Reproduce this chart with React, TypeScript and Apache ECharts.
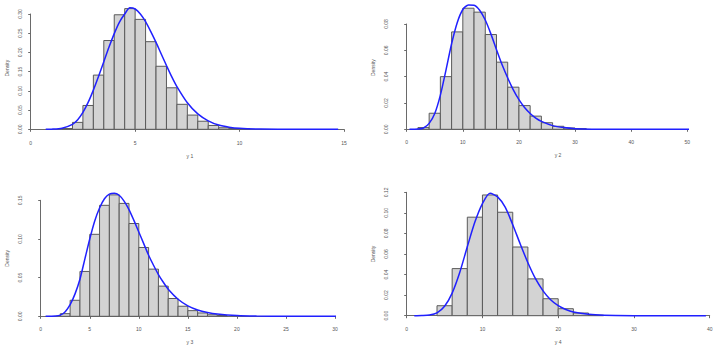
import React, { useEffect, useRef } from "react";
import * as echarts from "echarts";

// ---- Panel 1 (y 1) ----
const breaks1 = [1.5, 2, 2.5, 3, 3.5, 4, 4.5, 5, 5.5, 6, 6.5, 7, 7.5, 8, 8.5, 9, 9.5, 10, 10.5];
const dens1 = [0.002, 0.018, 0.062, 0.141, 0.231, 0.298, 0.314, 0.286, 0.228, 0.164, 0.108, 0.065, 0.037, 0.021, 0.010, 0.004, 0.002, 0.001];
const curveX1 = [0.72, 1, 1.5, 2, 2.25, 2.5, 2.75, 3, 3.25, 3.5, 3.75, 4, 4.25, 4.5, 4.75, 5, 5.25, 5.5, 5.75, 6, 6.25, 6.5, 6.75, 7, 7.5, 8, 8.5, 9, 9.5, 10, 11, 12, 13, 14.72];
const curveY1 = [0, 0.0003, 0.003, 0.013, 0.025, 0.044, 0.07, 0.102, 0.138, 0.176, 0.214, 0.249, 0.279, 0.3, 0.316, 0.313, 0.3, 0.28, 0.254, 0.226, 0.196, 0.166, 0.137, 0.111, 0.069, 0.04, 0.022, 0.011, 0.0055, 0.0026, 0.0005, 0.0001, 0, 0];
const xTicks1 = { min: 0, max: 15, interval: 5 };
const yTicks1 = { min: 0, max: 0.3, interval: 0.05 };

// ---- Panel 2 (y 2) ----
const breaks2 = [2, 4, 6, 8, 10, 12, 14, 16, 18, 20, 22, 24, 26, 28, 30, 32];
const dens2 = [0.0013, 0.0122, 0.040, 0.074, 0.092, 0.089, 0.072, 0.051, 0.032, 0.018, 0.010, 0.005, 0.0023, 0.001, 0.0005];
const curveX2 = [0.5, 2, 3, 4, 5, 6, 7, 8, 9, 10, 11, 12, 13, 14, 15, 16, 17, 18, 19, 20, 21, 22, 23, 24, 26, 28, 30, 33, 38, 45, 53.5];
const curveY2 = [0, 0.0002, 0.001, 0.0045, 0.012, 0.026, 0.045, 0.065, 0.081, 0.091, 0.0945, 0.0943, 0.0905, 0.083, 0.0725, 0.0605, 0.049, 0.039, 0.03, 0.0225, 0.0165, 0.012, 0.0085, 0.006, 0.0028, 0.0013, 0.0005, 0.0001, 0, 0, 0];
const xTicks2 = { min: 0, max: 50, interval: 10 };
const yTicks2 = { min: 0, max: 0.08, interval: 0.02 };

// ---- Panel 3 (y 3) ----
const breaks3 = [2, 3, 4, 5, 6, 7, 8, 9, 10, 11, 12, 13, 14, 15, 16, 17, 18, 19];
const dens3 = [0.0034, 0.0207, 0.058, 0.106, 0.1435, 0.157, 0.146, 0.120, 0.089, 0.061, 0.039, 0.023, 0.013, 0.0073, 0.0043, 0.002, 0.001];
const curveX3 = [0.5, 1.5, 2, 2.5, 3, 3.5, 4, 4.5, 5, 5.5, 6, 6.5, 7, 7.5, 8, 8.5, 9, 9.5, 10, 10.5, 11, 11.5, 12, 12.5, 13, 14, 15, 16, 17, 18, 20, 22, 25, 31];
const curveY3 = [0, 0.0003, 0.0015, 0.006, 0.015, 0.029, 0.048, 0.074, 0.1, 0.123, 0.14, 0.152, 0.158, 0.159, 0.1565, 0.149, 0.138, 0.124, 0.109, 0.094, 0.079, 0.066, 0.054, 0.044, 0.035, 0.022, 0.0135, 0.0082, 0.005, 0.003, 0.001, 0.0003, 0, 0];
const xTicks3 = { min: 0, max: 30, interval: 5 };
const yTicks3 = { min: 0, max: 0.15, interval: 0.05 };

// ---- Panel 4 (y 4) ----
const breaks4 = [4, 6, 8, 10, 12, 14, 16, 18, 20, 22, 24, 26];
const dens4 = [0.0097, 0.0458, 0.0958, 0.1174, 0.1006, 0.0668, 0.0358, 0.0165, 0.0068, 0.0026, 0.0005];
const curveX4 = [1, 2, 3, 4, 5, 6, 7, 8, 9, 10, 11, 12, 13, 14, 15, 16, 17, 18, 19, 20, 21, 22, 24, 26, 30, 35, 39.5];
const curveY4 = [0, 0.0002, 0.0007, 0.0028, 0.0092, 0.022, 0.042, 0.067, 0.091, 0.109, 0.119, 0.1155, 0.1055, 0.0885, 0.0695, 0.0515, 0.036, 0.0242, 0.0155, 0.0097, 0.006, 0.0036, 0.0013, 0.0004, 0.00005, 0, 0];
const xTicks4 = { min: 0, max: 40, interval: 10 };
const yTicks4 = { min: 0, max: 0.12, interval: 0.02 };

const xNames = ["y 1", "y 2", "y 3", "y 4"];
const yName = "Density";

const FONT = "Liberation Sans, Arial, Helvetica, sans-serif";
const TEXT = "#555555";
const LINE = "#6a6a6a";

export default function App() {
  const ref = useRef<HTMLDivElement>(null);
  useEffect(() => {
    if (!ref.current) return;
    const chart = echarts.init(ref.current, undefined, { renderer: "svg" });

    const panels = [
      { breaks: breaks1, dens: dens1, cx: curveX1, cy: curveY1, xt: xTicks1, yt: yTicks1,
        grid: { left: 30.7, top: 14, width: 313.3, height: 115.3 }, yOff: 2.4, xOff: 5.2, xPad: 5, yPad: 7 },
      { breaks: breaks2, dens: dens2, cx: curveX2, cy: curveY2, xt: xTicks2, yt: yTicks2,
        grid: { left: 406.7, top: 24, width: 280.6, height: 105.3 }, yOff: 12.7, xOff: 5, xPad: 22, yPad: 18 },
      { breaks: breaks3, dens: dens3, cx: curveX3, cy: curveY3, xt: xTicks3, yt: yTicks3,
        grid: { left: 40.7, top: 200.3, width: 294.3, height: 116 }, yOff: 12.7, xOff: 5, xPad: 4, yPad: 0 },
      { breaks: breaks4, dens: dens4, cx: curveX4, cy: curveY4, xt: xTicks4, yt: yTicks4,
        grid: { left: 406.7, top: 192.3, width: 303, height: 123.4 }, yOff: 12.7, xOff: 4.8, xPad: 0, yPad: 0 },
    ];

    const grids: any[] = [];
    const xAxes: any[] = [];
    const yAxes: any[] = [];
    const series: any[] = [];

    panels.forEach((p, i) => {
      grids.push({ ...p.grid, containLabel: false, outerBoundsMode: "none" });
      xAxes.push({
        type: "value", gridIndex: i, min: p.xt.min, max: p.xt.max, interval: p.xt.interval,
        offset: p.xOff, splitLine: { show: false },
        axisLine: { show: true, lineStyle: { color: LINE, width: 1 } },
        axisTick: { show: true, length: 2.5, lineStyle: { color: LINE } },
        axisLabel: { fontSize: 5, color: TEXT, fontFamily: FONT, margin: 5.5, showMinLabel: true, showMaxLabel: true },
        name: xNames[i], nameLocation: "middle", nameGap: 18.5,
        nameTextStyle: { fontSize: 5, color: TEXT, fontFamily: FONT, padding: [0, 0, 0, p.xPad] },
      });
      yAxes.push({
        type: "value", gridIndex: i, min: p.yt.min, max: p.yt.max, interval: p.yt.interval,
        offset: p.yOff, splitLine: { show: false },
        axisLine: { show: true, lineStyle: { color: LINE, width: 1 } },
        axisTick: { show: true, length: 2.5, lineStyle: { color: LINE } },
        axisLabel: { fontSize: 5, color: TEXT, fontFamily: FONT, margin: 6, rotate: 90,
          formatter: (v: number) => v.toFixed(2), showMinLabel: true, showMaxLabel: true },
        name: yName, nameLocation: "middle", nameGap: 18.5, nameRotate: 90,
        nameTextStyle: { fontSize: 5, color: TEXT, fontFamily: FONT, padding: [0, 0, 0, p.yPad] },
      });
      const binData = p.dens.map((d, k) => [p.breaks[k], p.breaks[k + 1], d]);
      series.push({
        type: "custom", xAxisIndex: i, yAxisIndex: i, clip: false,
        data: binData,
        encode: { x: [0, 1], y: 2 },
        renderItem: (_params: any, api: any) => {
          const a = api.coord([api.value(0), api.value(2)]);
          const b = api.coord([api.value(1), 0]);
          return {
            type: "rect",
            shape: { x: a[0], y: a[1], width: b[0] - a[0], height: b[1] - a[1] },
            style: { fill: "#d3d3d3", stroke: "#5a5a5a", lineWidth: 1 },
          };
        },
      });
      series.push({
        type: "line", xAxisIndex: i, yAxisIndex: i, clip: false, showSymbol: false, symbol: "none",
        smooth: 0.25,
        data: p.cx.map((x, k) => [x, p.cy[k]]),
        lineStyle: { color: "#2020ff", width: 1.5 },
        z: 5,
      });
    });

    chart.setOption({
      animation: false,
      backgroundColor: "#ffffff",
      grid: grids,
      xAxis: xAxes,
      yAxis: yAxes,
      series,
    });
    return () => chart.dispose();
  }, []);

  return (
    <div
      ref={ref}
      style={{ position: "absolute", left: 0, top: 0, width: 716, height: 351 }}
    />
  );
}
